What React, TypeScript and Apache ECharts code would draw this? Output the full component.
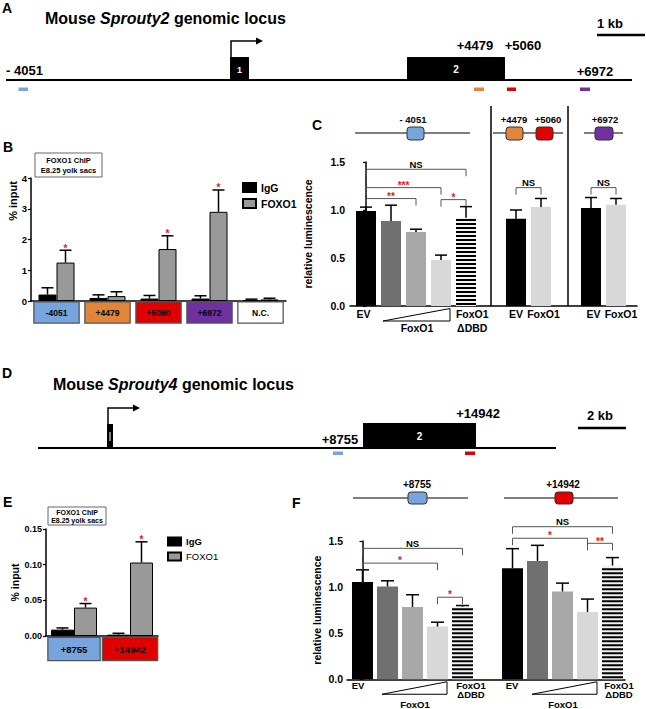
import React, { useEffect, useRef } from 'react';
import * as echarts from 'echarts';

const FONT = "'Liberation Sans', Arial, Helvetica, sans-serif";

// ---------------- data ----------------
// Panel B: FOXO1 ChIP, Sprouty2 (% input)
const chipBCategories = ['-4051', '+4479', '+5060', '+6972', 'N.C.'];
const chipBIgG = [0.21, 0.1, 0.08, 0.08, 0.03];
const chipBIgGErr = [0.43, 0.2, 0.18, 0.17, 0.06];
const chipBFoxo1 = [1.25, 0.16, 1.69, 2.9, 0.05];
const chipBFoxo1Err = [1.65, 0.3, 2.12, 3.61, 0.09];
const chipBSignificant = [true, false, true, true, false];
const chipBTicks = [0, 1, 2, 3, 4];

// Panel C: luciferase, Sprouty2 elements
const lucCSlots = [0, 1, 2, 3, 4, 6, 7, 9, 10];
const lucCKinds = ['ev', 'f1', 'f2', 'f3', 'dbd', 'ev', 'fox', 'ev', 'fox'];
const lucCValues = [0.99, 0.885, 0.77, 0.48, 0.92, 0.91, 1.03, 1.02, 1.055];
const lucCErr = [1.03, 1.05, 0.8, 0.53, 1.035, 1.0, 1.12, 1.13, 1.12];
const lucCBrackets = [[0, 4, 1.424], [0, 3, 1.233], [0, 2, 1.119], [3, 4, 1.108], [6, 7, 1.233], [9, 10, 1.233]];
const lucCBracketLabels = ['NS', '***', '**', '*', 'NS', 'NS'];
const lucCTickLabels = ['EV', '\nFoxO1', 'FoxO1\nΔDBD', 'EV', 'FoxO1', 'EV', 'FoxO1'];

// Panel E: FOXO1 ChIP, Sprouty4 (% input)
const chipECategories = ['+8755', '+14942'];
const chipEIgG = [0.0089, 0.0019];
const chipEIgGErr = [0.0113, 0.0038];
const chipEFoxo1 = [0.0398, 0.103];
const chipEFoxo1Err = [0.0455, 0.132];
const chipESignificant = [true, true];

// Panel F: luciferase, Sprouty4 elements
const lucFSlots = [0, 1, 2, 3, 4, 6, 7, 8, 9, 10];
const lucFKinds = ['ev', 'f1', 'f2', 'f3', 'dbd', 'ev', 'f1', 'f2', 'f3', 'dbd'];
const lucFValues = [1.054, 1.007, 0.784, 0.572, 0.788, 1.205, 1.284, 0.953, 0.73, 1.234];
const lucFErr = [1.187, 1.068, 0.917, 0.619, 0.8, 1.417, 1.453, 1.043, 0.87, 1.32];
const lucFBrackets = [[0, 4, 1.42], [0, 3, 1.26], [3, 4, 0.89], [6, 10, 1.655], [6, 9, 1.53], [9, 10, 1.475]];
const lucFBracketLabels = ['NS', '*', '*', 'NS', '*', '**'];
const lucFTickLabels = ['EV', '\n\nFoxO1', 'FoxO1\nΔDBD', 'EV', '\n\nFoxO1', 'FoxO1\nΔDBD'];

// ---------------- layout / style ----------------
const lucCTickSlots = [-0.1, 2.04, 4.25, 6, 7.1, 9.1, 10.2];
const lucFTickSlots = [-0.18, 2.1, 4.34, 5.98, 8.02, 10.26];
const lucCRamps = [[0.68, 3.36]];
const lucFRamps = [[0.78, 3.38], [6.78, 9.38]];

const KIND_COLORS: Record<string, string> = {
  ev: '#000000', f1: '#707070', f2: '#a8a8a8', f3: '#d8d8d8', dbd: '#f2f2f2', fox: '#d8d8d8',
};
const BLUE = '#78a4dd';
const ORANGE = '#e0853a';
const RED = '#e00000';
const PURPLE = '#7030a0';
const STAR_RED = '#e31a1a';
const chipBBoxColors = [BLUE, ORANGE, RED, PURPLE, '#ffffff'];
const chipEBoxColors = [BLUE, RED];
const chipEBoxWidths = [51, 54];

// ---------------- helpers ----------------
function txt(x: number, y: number, text: string, size: number, o: any = {}) {
  return {
    type: 'text', x, y, silent: true, rotation: o.rotation || 0,
    style: {
      text, fill: o.fill || '#000', fontSize: size, fontWeight: o.weight || 'bold',
      fontFamily: FONT, fontStyle: 'normal',
      align: o.align || 'left', verticalAlign: 'middle',
      textAlign: o.align || 'left', textVerticalAlign: 'middle',
      rich: o.rich,
    },
  };
}
function ln(x1: number, y1: number, x2: number, y2: number, w = 1, c = '#000') {
  return { type: 'line', silent: true, shape: { x1, y1, x2, y2 }, style: { stroke: c, lineWidth: w } };
}
function rc(x: number, y: number, w: number, h: number, fill: string, stroke?: string, r = 0, lw = 1) {
  return {
    type: 'rect', silent: true, shape: { x, y, width: w, height: h, r },
    style: { fill, stroke: stroke || null, lineWidth: stroke ? lw : 0 },
  };
}

function errorSeries(xi: number, data: number[][], dx: number, cap: number, stars?: boolean[]) {
  return {
    type: 'custom', xAxisIndex: xi, yAxisIndex: xi, silent: true, z: 5, clip: false,
    encode: { x: 0, y: [1, 2] },
    data,
    renderItem: (params: any, api: any) => {
      const x = api.value(0), v = api.value(1), e = api.value(2);
      const p0 = api.coord([x, v]);
      const p1 = api.coord([x, e]);
      const cx = p0[0] + dx;
      const children: any[] = [
        { type: 'line', shape: { x1: cx, y1: p0[1], x2: cx, y2: p1[1] }, style: { stroke: '#000', lineWidth: 1.5 } },
        { type: 'line', shape: { x1: cx - cap / 2, y1: p1[1], x2: cx + cap / 2, y2: p1[1] }, style: { stroke: '#000', lineWidth: 1.5 } },
      ];
      if (stars && stars[params.dataIndex]) {
        children.push({
          type: 'text', x: cx, y: p1[1] - 2,
          style: { text: '*', fill: STAR_RED, fontSize: 10, fontWeight: 'bold', fontFamily: FONT, align: 'center', verticalAlign: 'middle' },
        });
      }
      return { type: 'group', children };
    },
  };
}

function bracketSeries(xi: number, brackets: number[][], labels: string[]) {
  return {
    type: 'custom', xAxisIndex: xi, yAxisIndex: xi, silent: true, z: 6, clip: false,
    encode: { x: [0, 1], y: 2 },
    data: brackets,
    renderItem: (params: any, api: any) => {
      const a = api.coord([api.value(0), api.value(2)]);
      const b = api.coord([api.value(1), api.value(2)]);
      const label = labels[params.dataIndex];
      const isStar = label.indexOf('*') >= 0;
      return {
        type: 'group',
        children: [
          {
            type: 'polyline',
            shape: { points: [[a[0], a[1] + 7], [a[0], a[1]], [b[0], b[1]], [b[0], b[1] + 7]] },
            style: { stroke: '#555', lineWidth: 1, fill: null },
          },
          {
            type: 'text', x: (a[0] + b[0]) / 2, y: a[1] - (isStar ? 2.3 : 5),
            style: {
              text: label, fill: isStar ? STAR_RED : '#000', fontSize: isStar ? 10 : 9.5, fontWeight: 'bold',
              fontFamily: FONT, align: 'center', verticalAlign: 'middle',
            },
          },
        ],
      };
    },
  };
}

function stripeSeries(xi: number, data: number[][], width: number) {
  return {
    type: 'custom', xAxisIndex: xi, yAxisIndex: xi, silent: true, z: 4, clip: false,
    encode: { x: 0, y: 1 },
    data,
    renderItem: (params: any, api: any) => {
      const top = api.coord([api.value(0), api.value(1)]);
      const bot = api.coord([api.value(0), 0]);
      const children: any[] = [];
      for (let y = bot[1] - 1; y > top[1] + 1; y -= 4) {
        const h = Math.min(2, y - top[1]);
        children.push({ type: 'rect', shape: { x: top[0] - width / 2, y: y - h, width, height: h }, style: { fill: '#000' } });
      }
      return { type: 'group', children };
    },
  };
}

function rampSeries(xi: number, ramps: number[][]) {
  return {
    type: 'custom', xAxisIndex: xi, yAxisIndex: xi, silent: true, z: 4, clip: false,
    encode: { x: [0, 1] },
    data: ramps,
    renderItem: (params: any, api: any) => {
      const a = api.coord([api.value(0), 0]);
      const b = api.coord([api.value(1), 0]);
      return {
        type: 'polygon',
        shape: { points: [[a[0], a[1] + 15], [b[0], a[1] + 15], [b[0], a[1] + 2.5]] },
        style: { stroke: '#000', lineWidth: 1, fill: null },
      };
    },
  };
}

function valueY(gi: number, max: number, interval: number, digits: number, size: number, margin: number, name?: string, nameGap?: number) {
  return {
    type: 'value', gridIndex: gi, min: 0, max, interval,
    axisLine: { show: true, lineStyle: { color: '#000', width: 1.5 } },
    axisTick: { show: true, length: 3, lineStyle: { color: '#000', width: 1.2 } },
    splitLine: { show: false },
    axisLabel: {
      color: '#000', fontSize: size, fontWeight: 'bold', fontFamily: FONT, margin,
      formatter: (v: number) => v.toFixed(digits),
    },
    name: name || '', nameLocation: 'middle', nameGap: nameGap || 0,
    nameTextStyle: { color: '#000', fontSize: 10.5, fontWeight: 'bold', fontFamily: FONT },
  };
}

function lucX(gi: number, min: number, max: number, slots: number[], labels: string[], size: number, lh: number) {
  return {
    type: 'value', gridIndex: gi, min, max,
    axisLine: { show: true, onZero: false, lineStyle: { color: '#000', width: 1.5 } },
    axisTick: { show: false },
    splitLine: { show: false },
    axisLabel: {
      show: true, customValues: slots, margin: 1, color: '#000', fontSize: size, fontWeight: 'bold',
      fontFamily: FONT, lineHeight: lh, showMinLabel: true, showMaxLabel: true,
      formatter: (v: number) => {
        const i = slots.findIndex((s) => Math.abs(s - v) < 1e-6);
        return i >= 0 ? labels[i] : '';
      },
    },
  };
}

function barItems(slots: number[], values: number[], kinds: string[]) {
  return slots.map((s, i) => ({ value: [s, values[i]], itemStyle: { color: KIND_COLORS[kinds[i]] } }));
}

function buildOption() {
  const bRich: any = {};
  chipBBoxColors.forEach((c, i) => {
    bRich['c' + i] = {
      width: 44, height: 20, lineHeight: 20, align: 'center', backgroundColor: c,
      borderColor: '#555', borderWidth: 1.3, fontSize: 8.5, fontWeight: 'bold', fontFamily: FONT, color: '#000',
    };
  });
  const eRich: any = {};
  chipEBoxColors.forEach((c, i) => {
    eRich['c' + i] = {
      width: chipEBoxWidths[i], height: 22, lineHeight: 22, align: 'center', backgroundColor: c,
      borderColor: '#555', borderWidth: 1.3, fontSize: 9.5, fontWeight: 'bold', fontFamily: FONT, color: '#000',
    };
  });

  const dbdC = lucCSlots.map((s, i) => [s, lucCValues[i]]).filter((_, i) => lucCKinds[i] === 'dbd');
  const dbdF = lucFSlots.map((s, i) => [s, lucFValues[i]]).filter((_, i) => lucFKinds[i] === 'dbd');

  const graphics: any[] = [
    // ---- Panel A ----
    txt(2, 8, 'A', 14),
    txt(45, 18, 'Mouse {i|Sprouty2} genomic locus', 16, {
      rich: { i: { fontStyle: 'italic', fontWeight: 'bold', fontSize: 16, fontFamily: FONT } },
    }),
    txt(610, 23, '1 kb', 13, { align: 'center' }),
    ln(597, 35, 645, 35, 2.5),
    ln(6, 80, 632, 80, 2),
    rc(230, 57, 19, 23, '#000'),
    txt(239.5, 70, '1', 9, { fill: '#fff', align: 'center' }),
    { type: 'polyline', silent: true, shape: { points: [[231, 80], [231, 41], [257, 41]] }, style: { stroke: '#000', lineWidth: 1.5, fill: null } },
    { type: 'polygon', silent: true, shape: { points: [[256, 37.5], [263, 41], [256, 44.5]] }, style: { fill: '#000' } },
    rc(407, 57, 98, 23, '#000'),
    txt(456, 69, '2', 10, { fill: '#fff', align: 'center' }),
    txt(6, 70, '- 4051', 13),
    txt(475, 45, '+4479', 13, { align: 'center' }),
    txt(523, 45, '+5060', 13, { align: 'center' }),
    txt(595, 71, '+6972', 13, { align: 'center' }),
    rc(18.5, 87.5, 9.5, 3.5, BLUE),
    rc(474, 87.5, 10, 3.5, ORANGE),
    rc(507, 87.5, 9, 3.5, RED),
    rc(580, 87.5, 10, 3.5, PURPLE),

    // ---- Panel B ----
    txt(3, 147, 'B', 14),
    rc(35, 153, 67, 24, '#fff', '#666', 0, 1),
    txt(68.5, 160, 'FOXO1 ChIP', 7.5, { align: 'center' }),
    txt(68.5, 170.5, 'E8.25 yolk sacs', 7.5, { align: 'center' }),
    txt(13, 201, '% input', 11, { align: 'center', rotation: Math.PI / 2 }),

    // ---- Panel C ----
    txt(312, 125, 'C', 14),
    ln(355, 133, 470, 133, 1.2),
    rc(407, 127, 17, 13, BLUE, '#333', 3, 1),
    txt(413, 119, '- 4051', 9.5, { align: 'center' }),
    ln(493, 133, 563, 133, 1.2),
    rc(506, 127, 17, 13, ORANGE, '#333', 3, 1),
    rc(536, 127, 17, 13, RED, '#333', 3, 1),
    txt(514, 119, '+4479', 9.5, { align: 'center' }),
    txt(548, 119, '+5060', 9.5, { align: 'center' }),
    ln(584, 133, 623, 133, 1.2),
    rc(595, 127, 18, 13, PURPLE, '#333', 3, 1),
    txt(605, 119, '+6972', 9.5, { align: 'center' }),
    ln(491, 106, 491, 306, 1.5),
    ln(568, 106, 568, 306, 1.5),

    // ---- Panel D ----
    txt(2, 373, 'D', 14),
    txt(53, 384, 'Mouse {i|Sprouty4} genomic locus', 16, {
      rich: { i: { fontStyle: 'italic', fontWeight: 'bold', fontSize: 16, fontFamily: FONT } },
    }),
    txt(600, 415, '2 kb', 13, { align: 'center' }),
    ln(578, 428, 626, 428, 2.5),
    ln(38, 448, 556, 448, 2),
    rc(107, 424, 6, 24, '#000'),
    ln(110, 432, 110, 441, 1, '#fff'),
    { type: 'polyline', silent: true, shape: { points: [[108, 448], [108, 408], [134, 408]] }, style: { stroke: '#000', lineWidth: 1.5, fill: null } },
    { type: 'polygon', silent: true, shape: { points: [[133, 404.5], [140, 408], [133, 411.5]] }, style: { fill: '#000' } },
    rc(363, 423, 113, 25, '#000'),
    txt(419.5, 436, '2', 10, { fill: '#fff', align: 'center' }),
    txt(340, 439, '+8755', 13, { align: 'center' }),
    txt(478, 413, '+14942', 13, { align: 'center' }),
    rc(333, 451.5, 10, 3.5, BLUE),
    rc(465, 451.5, 10, 3.5, RED),

    // ---- Panel E ----
    txt(3, 502, 'E', 14),
    rc(48, 507, 58, 18, '#fff', '#666', 0, 1),
    txt(77, 512.5, 'FOXO1 ChIP', 7, { align: 'center' }),
    txt(77, 520.5, 'E8.25 yolk sacs', 7, { align: 'center' }),

    // ---- Panel F ----
    txt(292, 503, 'F', 14),
    ln(353, 498, 468, 498, 1.2),
    rc(408, 492, 19, 12, BLUE, '#333', 3, 1),
    txt(417, 484, '+8755', 10, { align: 'center' }),
    ln(504, 498, 618, 498, 1.2),
    rc(555, 492, 18, 12, RED, '#333', 3, 1),
    txt(563, 484, '+14942', 10, { align: 'center' }),
  ];

  return {
    animation: false,
    backgroundColor: '#ffffff',
    textStyle: { fontFamily: FONT },
    grid: [
      { left: 31, top: 178, width: 255, height: 123 },
      { left: 350, top: 162, width: 287, height: 144 },
      { left: 46, top: 529, width: 112, height: 107 },
      { left: 347, top: 541, width: 278, height: 139 },
    ],
    legend: [
      {
        data: ['IgG', 'FOXO1'], orient: 'vertical', left: 242, top: 182, itemWidth: 13, itemHeight: 9, itemGap: 5,
        icon: 'rect', selectedMode: false, padding: 0,
        textStyle: { color: '#000', fontSize: 10.5, fontWeight: 'bold', fontFamily: FONT },
      },
      {
        data: ['IgG', 'FOXO1'], orient: 'vertical', left: 167, top: 536.5, itemWidth: 13, itemHeight: 8, itemGap: 5,
        icon: 'rect', selectedMode: false, padding: 0,
        formatter: (n: string) => (n === 'IgG' ? '{b|IgG}' : '{r|FOXO1}'),
        textStyle: {
          color: '#000', fontSize: 9, fontFamily: FONT,
          rich: {
            b: { fontSize: 9.5, fontWeight: 'bold', fontFamily: FONT, color: '#000' },
            r: { fontSize: 9.5, fontWeight: 'normal', fontFamily: FONT, color: '#000' },
          },
        },
      },
    ],
    xAxis: [
      {
        type: 'category', gridIndex: 0, data: chipBCategories,
        axisLine: { show: true, lineStyle: { color: '#000', width: 1.5 } },
        axisTick: { show: false },
        axisLabel: { margin: 1.5, interval: 0, formatter: (v: string, i: number) => `{c${i}|${v}}`, rich: bRich },
      },
      lucX(1, -0.64, 10.84, lucCTickSlots, lucCTickLabels, 10.5, 14),
      {
        type: 'category', gridIndex: 2, data: chipECategories,
        axisLine: { show: true, lineStyle: { color: '#000', width: 1.5 } },
        axisTick: { show: false },
        axisLabel: { margin: 2, interval: 0, formatter: (v: string, i: number) => `{c${i}|${v}}`, rich: eRich },
      },
      lucX(3, -0.62, 10.5, lucFTickSlots, lucFTickLabels, 9.5, 9.5),
    ],
    yAxis: [
      { ...valueY(0, 4, 1, 0, 9, 4), axisLabel: { color: '#000', fontSize: 9.5, fontWeight: 'bold', fontFamily: FONT, margin: 4 }, min: chipBTicks[0], max: chipBTicks[chipBTicks.length - 1] },
      valueY(1, 1.5, 0.5, 1, 10.5, 5, 'relative luminescence', 36.5),
      valueY(2, 0.15, 0.05, 2, 9, 4, '% input', 26),
      valueY(3, 1.5, 0.5, 1, 10.5, 4, 'relative luminescence', 24.5),
    ],
    series: [
      // Panel B
      {
        name: 'IgG', type: 'bar', xAxisIndex: 0, yAxisIndex: 0, data: chipBIgG, barWidth: 18, barGap: '0%',
        itemStyle: { color: '#000', borderColor: '#000', borderWidth: 1 }, silent: true, z: 2,
      },
      {
        name: 'FOXO1', type: 'bar', xAxisIndex: 0, yAxisIndex: 0, data: chipBFoxo1, barWidth: 18, barGap: '0%',
        itemStyle: { color: '#999999', borderColor: '#000', borderWidth: 1 }, silent: true, z: 2,
      },
      errorSeries(0, chipBIgG.map((v, i) => [i, v, chipBIgGErr[i]]), -9, 12),
      errorSeries(0, chipBFoxo1.map((v, i) => [i, v, chipBFoxo1Err[i]]), 9, 12, chipBSignificant),

      // Panel C
      { type: 'bar', xAxisIndex: 1, yAxisIndex: 1, data: barItems(lucCSlots, lucCValues, lucCKinds), barWidth: 20, silent: true, z: 2 },
      stripeSeries(1, dbdC, 20),
      errorSeries(1, lucCSlots.map((s, i) => [s, lucCValues[i], lucCErr[i]]), 0, 12),
      bracketSeries(1, lucCBrackets, lucCBracketLabels),
      rampSeries(1, lucCRamps),

      // Panel E
      {
        name: 'IgG', type: 'bar', xAxisIndex: 2, yAxisIndex: 2, data: chipEIgG, barWidth: 23, barGap: '0%',
        itemStyle: { color: '#000', borderColor: '#000', borderWidth: 1 }, silent: true, z: 2,
      },
      {
        name: 'FOXO1', type: 'bar', xAxisIndex: 2, yAxisIndex: 2, data: chipEFoxo1, barWidth: 23, barGap: '0%',
        itemStyle: { color: '#999999', borderColor: '#000', borderWidth: 1 }, silent: true, z: 2,
      },
      errorSeries(2, chipEIgG.map((v, i) => [i, v, chipEIgGErr[i]]), -11.5, 12),
      errorSeries(2, chipEFoxo1.map((v, i) => [i, v, chipEFoxo1Err[i]]), 11.5, 12, chipESignificant),

      // Panel F
      { type: 'bar', xAxisIndex: 3, yAxisIndex: 3, data: barItems(lucFSlots, lucFValues, lucFKinds), barWidth: 21, silent: true, z: 2 },
      stripeSeries(3, dbdF, 21),
      errorSeries(3, lucFSlots.map((s, i) => [s, lucFValues[i], lucFErr[i]]), 0, 13),
      bracketSeries(3, lucFBrackets, lucFBracketLabels),
      rampSeries(3, lucFRamps),
    ],
    graphic: graphics,
  };
}

export default function App() {
  const ref = useRef<HTMLDivElement>(null);
  useEffect(() => {
    if (!ref.current) return;
    const chart = echarts.init(ref.current, undefined, { renderer: 'svg' });
    chart.setOption(buildOption() as any);
    return () => chart.dispose();
  }, []);
  return (
    <div
      ref={ref}
      style={{ position: 'fixed', left: 0, top: 0, width: 646, height: 709, background: '#fff' }}
    />
  );
}
